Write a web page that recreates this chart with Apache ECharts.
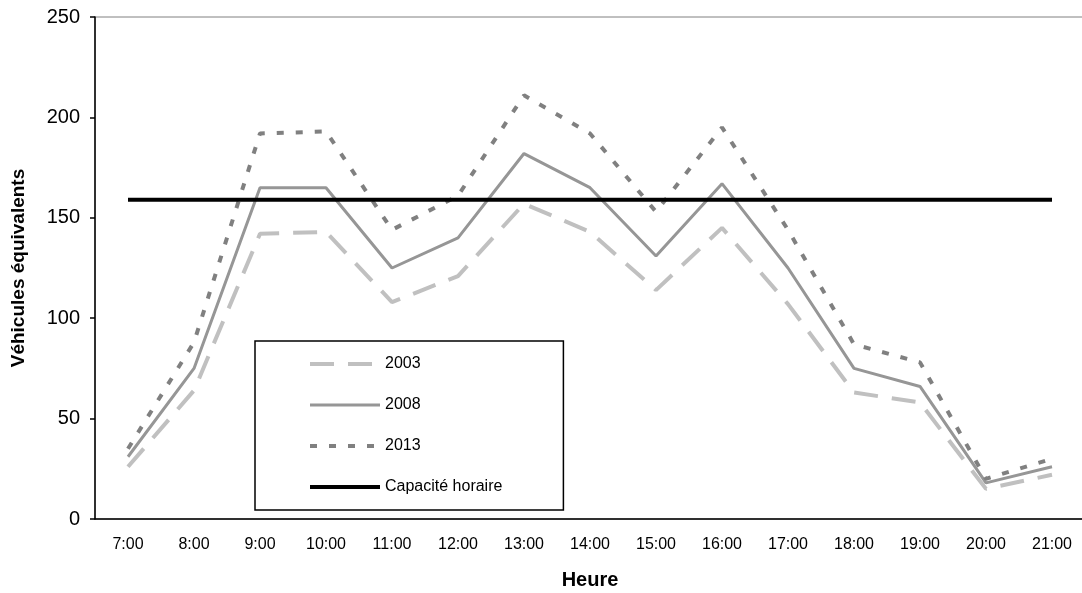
<!DOCTYPE html>
<html>
<head>
	<meta charset="UTF-8">
	<title>Véhicules équivalents par heure</title>
	<script src="https://cdn.jsdelivr.net/npm/echarts@6/dist/echarts.min.js"></script>
	<style>
		html, body { margin: 0; padding: 0; background: #FFFFFF; }
		#main { width: 1082px; height: 593px; }
	</style>
</head>
<body>
	<div id="main"></div>
	<script>
		// heures
		var heures = ['7:00', '8:00', '9:00', '10:00', '11:00', '12:00', '13:00', '14:00',
			'15:00', '16:00', '17:00', '18:00', '19:00', '20:00', '21:00'];

		// valeurs
		var v2003 = [26, 64, 142, 143, 108, 121, 157, 143, 114, 145, 107, 63, 58, 15, 22];
		var v2008 = [31, 75, 165, 165, 125, 140, 182, 165, 131, 167, 125, 75, 66, 18, 26];
		var v2013 = [35, 88, 192, 193, 144, 161, 211, 192, 153, 195, 144, 87, 78, 20, 30];
		var capacite = [159, 159, 159, 159, 159, 159, 159, 159, 159, 159, 159, 159, 159, 159, 159];

		var yTicks = [0, 50, 100, 150, 200, 250];

		var font = 'Arial, "Liberation Sans", sans-serif';

		// styles des courbes
		var s2003 = { color: '#C0C0C0', width: 4, type: [24, 14], cap: 'butt' };
		var s2008 = { color: '#969696', width: 3, type: 'solid' };
		var s2013 = { color: '#808080', width: 4, type: [7, 12], cap: 'butt' };
		var sCap = { color: '#000000', width: 4, type: 'solid' };
		var noSymbol = { color: 'rgba(0,0,0,0)', borderWidth: 0, opacity: 0 };

		var myChart = echarts.init(document.getElementById('main'));

		var option = {
			backgroundColor: '#FFFFFF',
			animation: false,
			textStyle: { fontFamily: font },
			grid: {
				left: 95,
				top: 17,
				width: 990,
				height: 502,
				containLabel: false,
				outerBoundsMode: 'none',
				show: true,
				borderColor: '#808080',
				borderWidth: 1
			},
			legend: {
				orient: 'vertical',
				left: 255,
				top: 341,
				itemWidth: 70,
				itemHeight: 14,
				itemGap: 25,
				padding: [15, 61, 15, 53],
				borderColor: '#000000',
				borderWidth: 1.5,
				backgroundColor: '#FFFFFF',
				textStyle: { fontFamily: font, fontSize: 16, color: '#000000', width: 130 },
				data: [
					{ name: '2003', lineStyle: s2003, itemStyle: noSymbol },
					{ name: '2008', lineStyle: s2008, itemStyle: noSymbol },
					{ name: '2013', lineStyle: s2013, itemStyle: noSymbol },
					{ name: 'Capacité horaire', lineStyle: sCap, itemStyle: noSymbol }
				]
			},
			xAxis: {
				type: 'category',
				data: heures,
				boundaryGap: true,
				name: 'Heure',
				nameLocation: 'middle',
				nameGap: 51,
				nameTextStyle: { fontFamily: font, fontSize: 20, fontWeight: 'bold', color: '#000000' },
				axisLine: { lineStyle: { color: '#000000', width: 1.5 } },
				axisTick: { alignWithLabel: false, length: 6, lineStyle: { color: '#000000', width: 1.5 } },
				axisLabel: { fontFamily: font, fontSize: 16, color: '#000000', margin: 18, interval: 0 },
				splitLine: { show: false }
			},
			yAxis: {
				type: 'value',
				min: yTicks[0],
				max: yTicks[yTicks.length - 1],
				interval: 50,
				name: 'Véhicules équivalents',
				nameLocation: 'middle',
				nameGap: 67,
				nameTextStyle: { fontFamily: font, fontSize: 19, fontWeight: 'bold', color: '#000000' },
				axisLine: { show: true, lineStyle: { color: '#000000', width: 1.5 } },
				axisTick: { show: true, length: 5, lineStyle: { color: '#000000', width: 1.5 } },
				axisLabel: { fontFamily: font, fontSize: 20, color: '#000000', margin: 15 },
				splitLine: { show: false }
			},
			series: [{
				name: '2003',
				type: 'line',
				data: v2003,
				symbol: 'none',
				lineStyle: s2003,
				itemStyle: { color: s2003.color }
			}, {
				name: '2008',
				type: 'line',
				data: v2008,
				symbol: 'none',
				lineStyle: s2008,
				itemStyle: { color: s2008.color }
			}, {
				name: '2013',
				type: 'line',
				data: v2013,
				symbol: 'none',
				lineStyle: s2013,
				itemStyle: { color: s2013.color }
			}, {
				name: 'Capacité horaire',
				type: 'line',
				data: capacite,
				symbol: 'none',
				lineStyle: sCap,
				itemStyle: { color: sCap.color }
			}]
		};

		myChart.setOption(option);
	</script>
</body>
</html>
